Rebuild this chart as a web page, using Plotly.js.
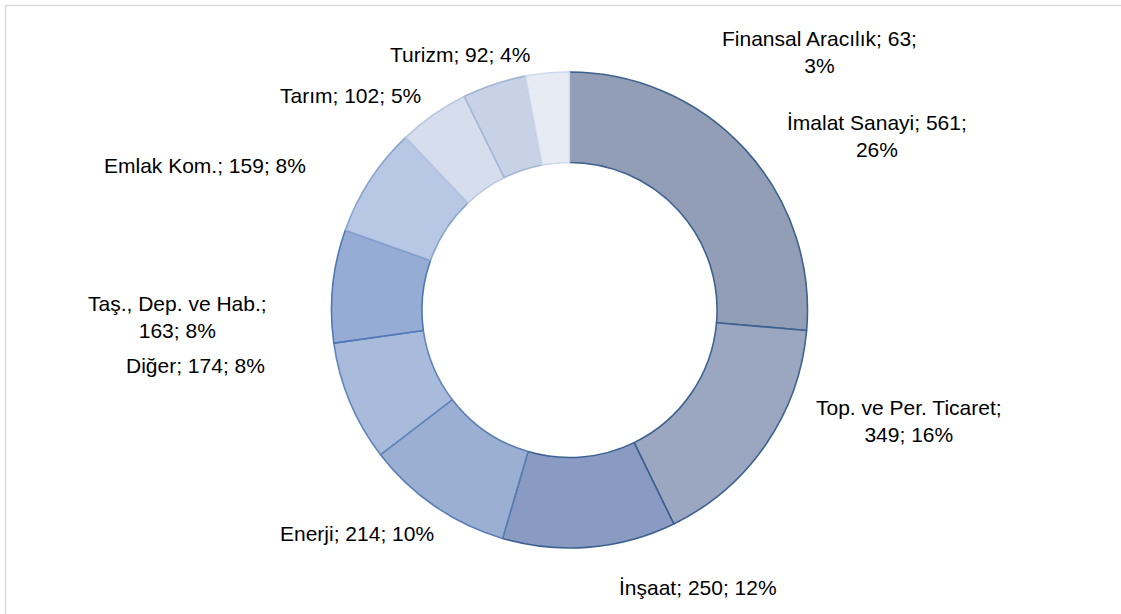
<!DOCTYPE html>
<html>
<head>
<meta charset="utf-8">
<script src="https://cdn.plot.ly/plotly-3.0.1.min.js"></script>
<style>html,body{margin:0;padding:0;background:#fff;}#chart{width:1121px;height:614px;}</style>
</head>
<body>
<div id="chart"></div>
<script>
// Data
var sectors = ["İmalat Sanayi", "Top. ve Per. Ticaret", "İnşaat", "Enerji", "Diğer",
               "Taş., Dep. ve Hab.", "Emlak Kom.", "Tarım", "Turizm", "Finansal Aracılık"];
var counts = [561, 349, 250, 214, 174, 163, 159, 102, 92, 63];
var percents = [26, 16, 12, 10, 8, 8, 8, 5, 4, 3];

// Styling
var fillColors = ["#929eb5", "#9ba7c1", "#8a9bc3", "#9bafd3", "#a9bbdb",
                  "#96acd4", "#b8c7e3", "#d6ddec", "#c8d2e6", "#e6ebf4"];
var lineColors = ["#3d6190", "#3d6190", "#3d6190", "#5a7eb3", "#6286bb",
                  "#4e78b8", "#8aa4cf", "#b8c8e2", "#a4b5d6", "#d0d9ea"];

// label layout: [centerX px, centerY px, line break mode]
var labelLayout = [
  [877, 136, 1], [909, 421, 2], [698, 587, 0], [357, 533, 0], [195, 365, 0],
  [177, 317, 2], [205, 165, 0], [350, 95, 0], [460, 54, 0], [819, 52, 1]
];

var W = 1121, H = 614;
var annotations = sectors.map(function (s, i) {
  var L = labelLayout[i];
  var txt;
  if (L[2] === 1) { txt = s + "; " + counts[i] + ";<br>" + percents[i] + "%"; }
  else if (L[2] === 2) { txt = s + ";<br>" + counts[i] + "; " + percents[i] + "%"; }
  else { txt = s + "; " + counts[i] + "; " + percents[i] + "%"; }
  return {
    xref: "paper", yref: "paper", x: L[0] / W, y: 1 - L[1] / H,
    xanchor: "center", yanchor: "middle", showarrow: false, align: "center",
    text: txt, font: {family: "Liberation Sans, Arial, sans-serif", size: 21, color: "#000"}
  };
});

var trace = {
  type: "pie",
  labels: sectors,
  values: counts,
  sort: false,
  direction: "clockwise",
  rotation: 0,
  hole: 0.62,
  textinfo: "none",
  textposition: "none",
  hoverinfo: "label+value+percent",
  marker: {colors: fillColors, line: {color: lineColors, width: 1.6}},
  domain: {x: [331.5 / W, 807.5 / W], y: [1 - 548 / H, 1 - 72 / H]},
  showlegend: false
};

var layout = {
  width: W, height: H,
  margin: {l: 0, r: 0, t: 0, b: 0},
  paper_bgcolor: "#ffffff",
  showlegend: false,
  annotations: annotations,
  shapes: [{
    type: "rect", xref: "paper", yref: "paper",
    x0: 5.5 / W, x1: 1.1, y0: -0.1, y1: 1 - 5.5 / H,
    line: {color: "#d9d9d9", width: 1.5}, fillcolor: "rgba(0,0,0,0)", layer: "below"
  }]
};

Plotly.newPlot("chart", [trace], layout, {displayModeBar: false, staticPlot: true});
</script>
</body>
</html>
